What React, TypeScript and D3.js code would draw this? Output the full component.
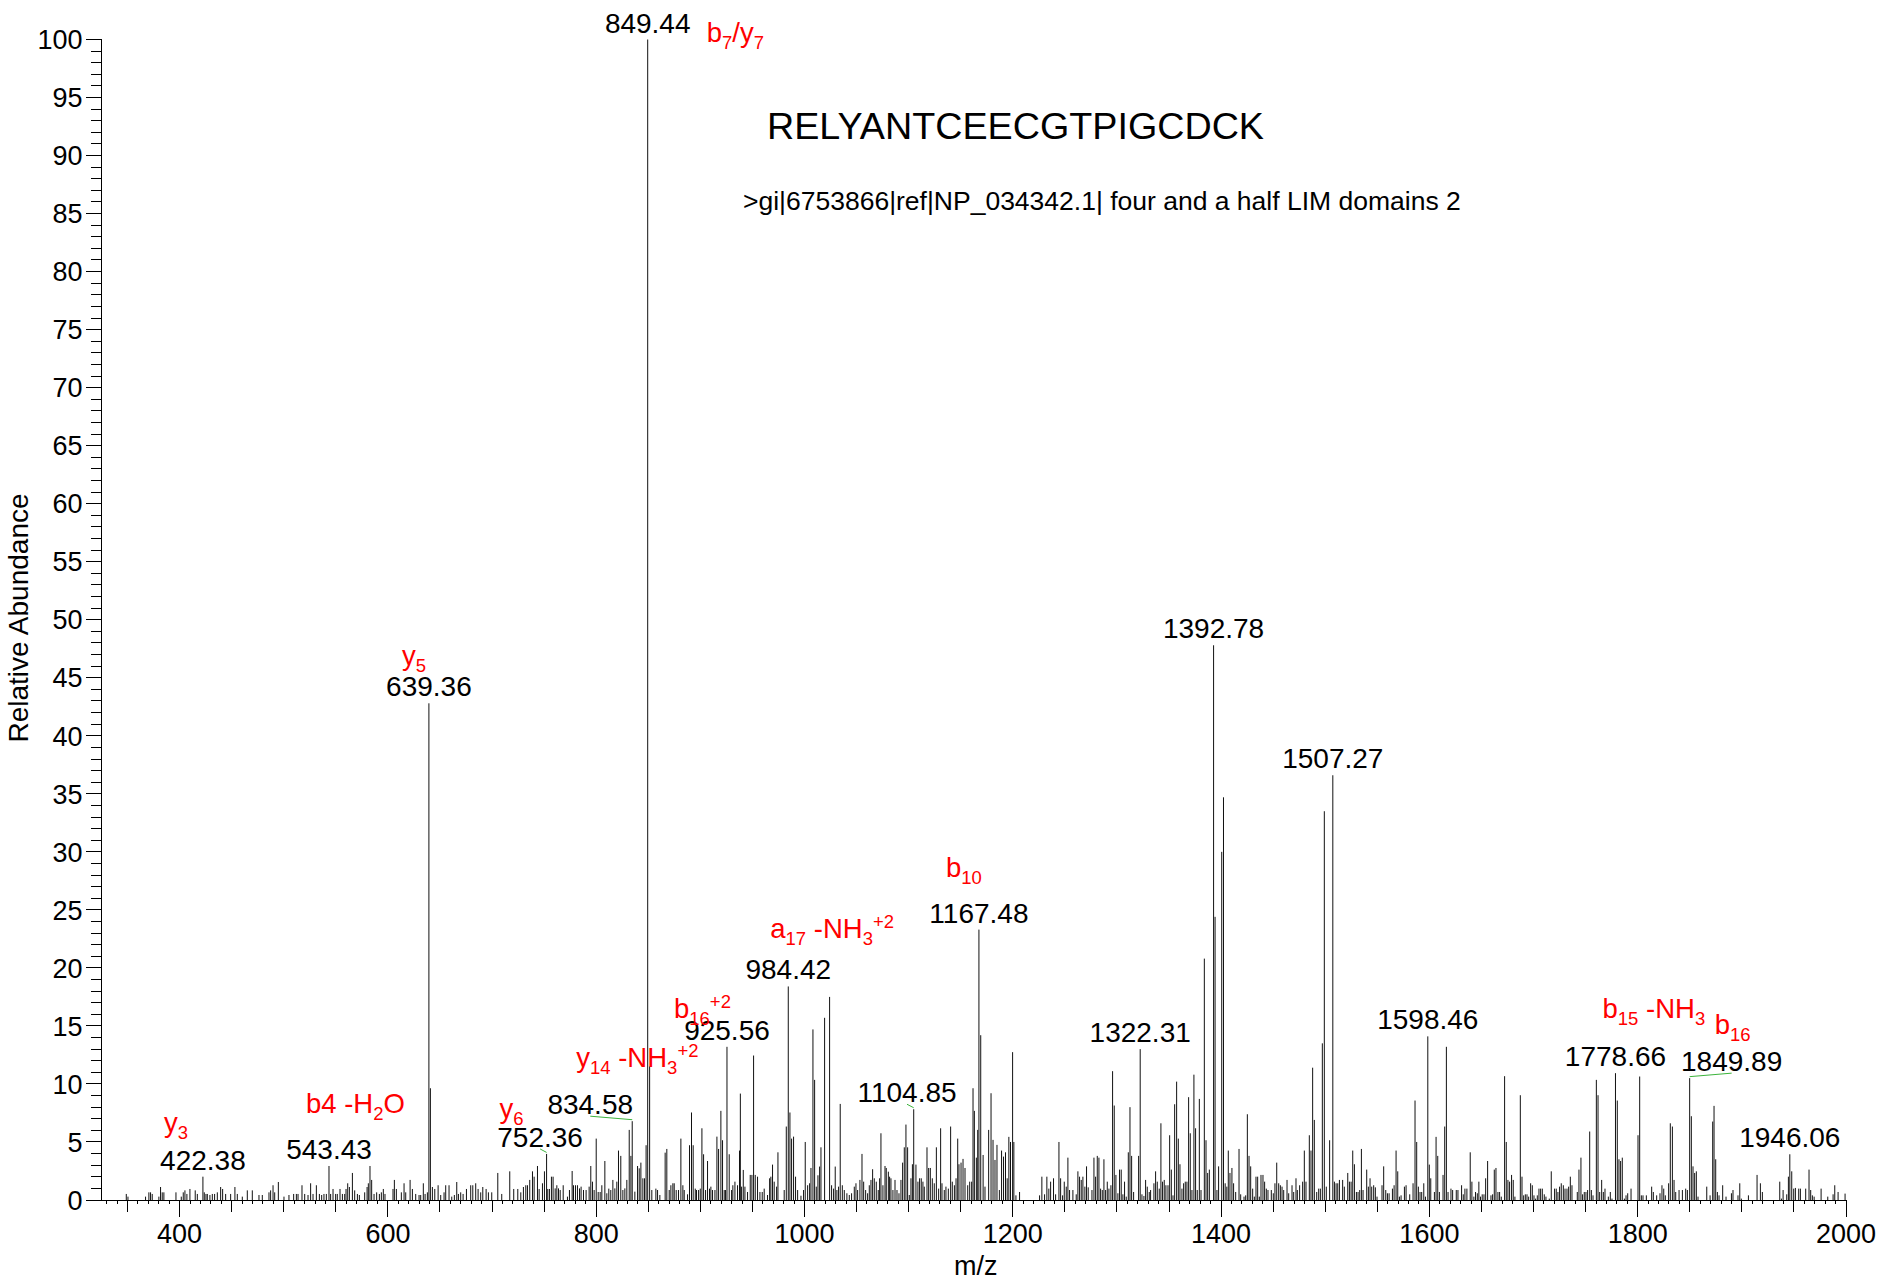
import React, { useEffect } from 'react';
import * as d3 from 'd3';

// ---- DATA (m/z, relative abundance) ----
const peaks325to560: [number, number][] = [
  [348.8,0.52],[350.4,0.29],[367.3,0.29],[370.5,0.66],[372.1,0.66],[373.7,0.52],[380.1,0.29],[381.7,1.12],[383.3,0.66],[384.9,0.66],[396.5,0.66],[401.6,0.29],[403.5,0.66],[405.1,0.83],[407.0,0.52],[409.9,0.95],[415.0,0.83],[417.0,0.52],[422.38,2.01],[423.7,0.66],[425.3,0.52],[426.6,0.52],[429.1,0.43],[431.4,0.52],[433.6,0.52],[436.2,0.66],[439.4,1.12],[441.3,0.95],[444.2,0.52],[449.0,0.52],[453.1,1.12],[455.4,0.52],[460.2,0.29],[465.0,0.83],[469.8,0.83],[476.2,0.43],[479.4,0.43],[485.8,0.66],[487.4,0.83],[489.7,1.27],[491.3,0.66],[494.8,1.55],[500.2,0.29],[505.0,0.43],[509.5,0.52],[512.1,0.52],[513.7,0.52],[517.5,1.27],[520.1,0.52],[523.3,0.43],[525.8,1.44],[528.1,0.52],[531.3,1.27],[534.2,0.52],[536.4,0.43],[538.6,0.52],[540.9,0.52],[543.43,2.93],[545.0,0.52],[547.3,0.95],[549.8,0.52],[551.4,0.52],[554.0,0.95],[556.3,0.52],[558.5,0.52],[559.8,0.95]
];
const peaks560to760: [number, number][] = [
  [561.4,1.44],[563.0,1.12],[565.9,2.33],[568.1,0.83],[570.7,0.52],[572.6,0.43],[577.7,0.66],[580.0,1.12],[581.2,1.44],[582.8,2.93],[584.4,1.73],[586.7,0.52],[589.2,0.66],[591.8,0.52],[593.7,0.66],[595.6,0.95],[597.2,0.52],[604.9,0.95],[606.2,1.73],[608.1,0.95],[612.9,0.66],[615.5,1.44],[617.1,0.66],[621.3,1.73],[623.5,0.95],[626.7,0.52],[629.9,0.43],[631.5,0.43],[634.0,1.44],[635.7,0.52],[637.9,0.66],[639.36,42.8],[640.8,9.63],[642.7,1.12],[645.0,0.95],[648.2,1.27],[650.7,0.43],[653.9,0.66],[655.5,1.27],[658.7,1.27],[661.3,0.29],[663.8,0.43],[666.1,1.55],[667.7,0.52],[669.9,0.66],[672.2,0.52],[675.4,0.95],[679.5,1.27],[681.5,1.27],[684.3,1.44],[686.6,0.95],[689.1,0.66],[691.1,1.12],[694.3,0.95],[696.5,0.66],[699.7,0.66],[705.5,2.33],[709.3,0.52],[717.0,2.47],[720.8,0.95],[724.7,0.95],[727.6,0.66],[730.1,1.12],[732.4,1.27],[734.0,1.27],[736.2,1.73],[738.8,2.47],[740.4,2.01],[743.6,2.93],[745.2,0.95],[748.4,1.44],[750.3,2.47],[752.36,3.97],[753.5,0.95],[755.1,0.95],[757.0,2.01],[758.6,2.01]
];
const peaks760to1000: [number, number][] = [
  [760.6,1.0],[762.2,1.27],[763.8,1.0],[765.4,0.86],[768.3,1.27],[772.4,0.29],[774.3,0.86],[776.9,2.5],[778.2,1.27],[780.1,1.27],[782.0,1.27],[784.0,1.0],[785.5,1.15],[787.8,0.86],[790.3,0.86],[793.2,1.15],[794.8,2.93],[796.4,1.58],[798.0,0.86],[800.0,5.29],[801.9,0.69],[803.8,0.69],[805.4,1.27],[808.3,3.36],[810.2,0.58],[812.1,0.98],[814.0,0.86],[816.0,1.73],[817.9,1.0],[819.8,1.58],[821.4,4.26],[823.6,3.8],[825.6,0.86],[827.5,1.0],[829.4,1.73],[831.7,6.04],[833.3,3.8],[834.58,6.79],[837.1,0.72],[839.7,2.93],[841.3,2.73],[842.9,3.22],[844.8,1.87],[846.4,1.87],[847.9,4.72],[849.44,100],[851.3,11.5],[853.4,0.86],[857.3,0.98],[858.9,0.86],[861.1,0.43],[866.2,4.08],[867.8,4.4],[870.1,0.86],[871.7,1.27],[873.6,1.44],[874.9,1.44],[876.8,0.86],[879.0,0.86],[881.3,5.29],[883.2,1.27],[884.5,0.86],[887.7,0.49],[889.6,4.72],[891.5,7.54],[893.1,4.72],[895.1,0.98],[896.3,0.86],[898.3,0.86],[899.9,0.98],[901.5,6.18],[903.1,3.94],[905.0,0.86],[906.9,3.36],[908.8,0.98],[910.1,1.15],[911.7,0.86],[914.0,0.86],[915.9,5.46],[917.5,4.4],[919.7,7.68],[921.3,5.15],[922.9,0.86],[924.2,0.86],[925.56,13.2],[927.7,3.94],[930.0,0.86],[931.2,1.27],[933.2,1.58],[935.7,1.27],[937.6,4.26],[938.4,9.17],[939.6,1.15],[941.2,2.59],[942.8,1.15],[945.3,0.69],[947.9,2.16],[949.5,2.16],[951.1,12.45],[952.7,2.16],[954.9,2.01],[957.2,0.69],[959.4,0.69],[961.3,0.98],[964.5,0.43],[966.5,1.87],[967.7,2.01],[969.3,3.05],[970.9,1.58],[973.2,1.15],[974.5,4.11],[980.5,0.86],[982.5,6.33],[984.42,18.4],[986.0,7.54],[987.6,5.29],[989.5,5.46],[991.4,2.01],[993.4,0.86],[996.6,0.37],[999.1,0.86]
];
const peaks1000to1210: [number, number][] = [
  [1000.7,5.0],[1003.0,1.27],[1004.9,1.44],[1006.2,2.76],[1008.1,14.7],[1009.7,10.35],[1011.3,1.15],[1012.9,2.13],[1014.5,2.88],[1015.8,4.54],[1019.3,15.7],[1024.1,17.5],[1026.0,1.27],[1027.9,0.98],[1029.5,2.88],[1031.1,0.86],[1032.7,1.15],[1034.3,8.28],[1036.3,1.27],[1038.2,0.86],[1040.7,0.58],[1043.0,0.43],[1045.2,0.58],[1047.8,1.15],[1049.4,1.44],[1051.0,0.86],[1053.2,1.73],[1055.2,3.97],[1056.8,1.58],[1058.7,0.86],[1060.6,0.58],[1062.2,1.27],[1063.8,1.73],[1065.4,2.65],[1067.0,1.87],[1068.9,1.58],[1070.8,0.86],[1072.1,1.87],[1073.4,5.75],[1075.3,1.27],[1077.3,2.93],[1078.5,2.76],[1080.5,2.44],[1081.7,2.01],[1083.0,1.87],[1084.9,0.86],[1086.9,1.73],[1088.8,0.86],[1090.7,0.58],[1092.6,1.73],[1094.2,3.22],[1095.8,4.54],[1097.4,6.5],[1099.0,4.54],[1100.6,0.43],[1102.2,1.87],[1103.6,3.08],[1104.85,7.82],[1107.0,3.05],[1108.9,1.58],[1110.5,1.87],[1112.1,1.87],[1113.7,1.58],[1115.0,1.15],[1117.6,4.54],[1119.2,2.76],[1120.8,2.76],[1122.7,1.87],[1124.6,1.44],[1126.6,4.54],[1128.8,0.98],[1130.7,6.18],[1132.0,1.44],[1134.2,0.86],[1135.8,1.15],[1138.1,0.98],[1140.3,6.33],[1141.9,1.58],[1143.9,1.27],[1145.5,1.87],[1147.1,5.29],[1148.3,3.08],[1150.3,3.22],[1152.2,3.54],[1154.1,2.76],[1156.7,1.27],[1158.6,1.58],[1160.5,1.58],[1161.8,9.63],[1163.1,7.68],[1165.0,3.65],[1166.3,6.04],[1167.48,23.3],[1169.2,14.2],[1171.5,3.88],[1173.3,1.15],[1176.8,6.04],[1179.1,9.2],[1181.0,5.18],[1182.9,3.45],[1184.8,4.75],[1187.1,0.86],[1189.2,4.26],[1191.1,3.74],[1193.0,4.11],[1194.6,1.87],[1196.2,5.44],[1197.8,5.0],[1199.8,12.74],[1201.0,5.0],[1203.0,0.4],[1206.5,0.69]
];
const peaks1210to1420: [number, number][] = [
  [1225.7,0.4],[1227.9,2.01],[1230.5,0.49],[1232.7,2.01],[1234.6,0.98],[1236.3,1.58],[1239.1,1.87],[1241.1,0.49],[1244.3,5.0],[1245.9,1.87],[1247.8,0.4],[1249.4,1.58],[1251.3,1.15],[1252.9,3.65],[1254.5,0.86],[1257.7,0.86],[1260.9,0.49],[1262.5,2.47],[1264.1,2.01],[1265.7,1.73],[1267.3,2.01],[1269.2,1.15],[1270.8,2.9],[1272.4,1.09],[1276.0,0.86],[1277.9,3.65],[1279.5,2.01],[1281.1,3.8],[1282.7,3.65],[1284.3,0.98],[1285.9,0.86],[1287.5,3.51],[1289.1,0.86],[1290.7,1.58],[1292.3,0.98],[1294.2,1.27],[1295.8,11.1],[1297.4,8.14],[1299.0,2.16],[1300.9,0.58],[1302.5,2.62],[1304.1,2.62],[1305.7,0.49],[1307.3,1.58],[1308.9,0.29],[1310.9,4.11],[1312.5,8.0],[1314.1,3.8],[1316.0,0.69],[1320.8,3.8],[1322.31,13.0],[1324.0,0.49],[1325.9,0.35],[1327.5,1.73],[1329.1,1.15],[1331.0,0.69],[1332.3,0.86],[1335.5,1.44],[1337.1,2.47],[1338.7,1.58],[1340.6,0.98],[1342.2,6.61],[1343.8,1.58],[1345.4,1.73],[1347.0,1.27],[1349.0,1.27],[1350.6,5.58],[1352.2,2.62],[1353.8,0.4],[1355.4,8.25],[1357.3,10.2],[1358.9,5.29],[1360.5,3.08],[1362.4,0.98],[1364.0,1.44],[1365.6,1.58],[1367.2,1.58],[1368.8,8.86],[1370.4,5.75],[1372.0,0.86],[1373.9,10.8],[1375.5,6.18],[1377.1,0.86],[1379.1,8.71],[1380.7,0.86],[1383.9,20.8],[1385.5,5.15],[1387.1,2.33],[1388.7,2.62],[1392.78,47.8],[1394.2,24.4],[1396.0,0.86],[1397.6,2.9],[1400.6,30.0],[1402.3,34.7],[1403.9,1.44],[1405.5,1.15],[1406.9,4.26],[1408.5,2.33],[1410.4,2.76],[1412.0,1.44],[1414.0,0.69],[1417.2,4.4],[1418.8,0.49]
];
const peaks1420to1620: [number, number][] = [
  [1422.0,0.29],[1423.6,0.4],[1425.2,7.39],[1426.8,3.8],[1428.4,2.9],[1430.3,0.98],[1431.9,0.29],[1433.5,2.01],[1435.1,2.01],[1436.7,0.29],[1438.3,2.16],[1440.2,2.16],[1441.8,1.58],[1443.4,0.98],[1445.0,0.86],[1448.2,0.86],[1450.1,0.58],[1451.7,1.44],[1453.4,3.22],[1455.3,1.44],[1456.9,1.27],[1458.5,1.15],[1460.1,0.86],[1463.3,1.73],[1464.9,0.58],[1468.1,1.27],[1469.7,0.69],[1471.9,1.87],[1473.2,0.86],[1475.4,1.27],[1478.3,1.58],[1479.9,4.26],[1481.5,1.58],[1484.7,5.58],[1486.3,4.26],[1487.9,11.4],[1489.5,6.9],[1491.8,0.69],[1493.7,0.98],[1495.3,0.98],[1497.2,13.5],[1499.1,33.5],[1501.0,1.15],[1504.2,5.15],[1507.27,36.6],[1508.8,1.58],[1510.4,1.44],[1512.0,1.44],[1513.6,1.73],[1516.7,1.73],[1518.3,1.15],[1521.6,2.33],[1523.2,1.58],[1524.8,1.58],[1526.4,4.26],[1528.0,3.08],[1529.9,0.69],[1531.5,0.69],[1533.1,0.86],[1534.7,4.4],[1536.3,0.86],[1539.8,2.62],[1541.4,1.15],[1543.0,1.87],[1544.6,1.15],[1546.5,1.27],[1548.1,1.09],[1549.7,0.29],[1554.5,1.27],[1556.1,2.9],[1558.1,0.86],[1559.7,0.58],[1561.3,0.58],[1564.5,0.98],[1566.1,1.27],[1568.0,4.26],[1569.6,2.47],[1571.2,0.29],[1572.8,0.4],[1576.0,1.15],[1577.6,1.27],[1581.1,0.49],[1584.3,1.44],[1586.2,8.57],[1587.8,5.0],[1589.4,1.15],[1591.0,0.69],[1592.6,0.69],[1594.6,1.44],[1596.2,0.29],[1598.46,14.1],[1599.9,3.05],[1601.3,1.87],[1604.8,0.69],[1606.4,5.44],[1608.0,3.8],[1609.6,0.69],[1613.1,2.16],[1614.7,6.33],[1616.3,13.2],[1617.9,0.69]
];
const peaks1620to1800: [number, number][] = [
  [1620.7,0.98],[1622.3,0.86],[1625.8,0.86],[1627.4,0.86],[1630.9,1.27],[1632.5,0.49],[1634.1,0.98],[1636.0,0.98],[1639.2,4.11],[1640.8,1.58],[1642.7,0.29],[1644.3,0.69],[1646.0,0.58],[1647.5,1.58],[1649.1,0.29],[1650.7,0.49],[1652.4,0.49],[1654.0,1.87],[1655.9,3.36],[1659.1,0.4],[1660.7,0.49],[1662.3,2.62],[1663.9,2.76],[1665.8,0.69],[1667.4,0.69],[1669.0,0.29],[1672.2,10.67],[1673.8,5.0],[1675.4,1.73],[1677.0,1.58],[1678.9,2.16],[1680.5,1.73],[1682.1,0.29],[1687.3,9.03],[1688.9,2.01],[1690.5,0.4],[1692.1,0.49],[1693.7,0.49],[1695.3,0.29],[1697.2,1.44],[1698.8,1.27],[1700.4,0.4],[1702.0,0.12],[1703.6,0.4],[1705.2,0.98],[1706.8,0.98],[1708.4,0.98],[1710.3,0.49],[1711.9,0.29],[1715.1,0.12],[1717.0,2.47],[1720.2,0.98],[1721.8,0.98],[1723.4,0.69],[1725.0,1.15],[1726.6,1.44],[1728.6,1.27],[1730.2,0.98],[1732.1,0.98],[1733.7,1.15],[1735.3,2.01],[1736.9,1.27],[1742.0,0.69],[1743.6,2.62],[1745.5,3.65],[1747.1,0.49],[1748.7,0.69],[1750.3,0.69],[1751.9,0.86],[1753.9,5.9],[1755.5,0.86],[1757.1,0.4],[1760.3,10.35],[1761.9,9.03],[1763.5,0.69],[1765.4,1.73],[1767.0,0.69],[1768.6,0.98],[1771.8,0.29],[1773.7,0.69],[1775.3,0.12],[1778.66,10.93],[1780.4,8.57],[1782.0,3.51],[1783.6,3.36],[1785.2,3.65],[1787.2,0.12],[1788.8,0.4],[1790.4,0.58],[1793.6,0.98]
];
const peaks1800to2000: [number, number][] = [
  [1800.3,5.58],[1801.9,10.64],[1803.5,0.4],[1805.1,0.4],[1808.3,0.4],[1813.4,1.15],[1815.0,0.69],[1818.2,0.4],[1821.4,0.58],[1823.3,1.27],[1825.0,0.98],[1826.5,0.4],[1829.7,1.44],[1831.3,6.61],[1833.3,6.33],[1834.9,1.73],[1836.5,0.69],[1839.7,0.86],[1842.9,0.86],[1846.1,0.98],[1847.7,0.86],[1849.89,10.5],[1851.5,7.22],[1853.1,2.9],[1854.7,2.33],[1856.3,2.47],[1857.9,0.29],[1866.3,1.15],[1869.5,0.4],[1872.0,6.76],[1873.3,8.11],[1874.9,3.51],[1876.5,0.69],[1878.1,0.4],[1881.6,1.27],[1884.8,0.29],[1890.0,0.58],[1891.5,0.86],[1896.3,0.4],[1898.0,1.44],[1899.5,0.12],[1906.3,0.4],[1914.6,2.16],[1917.8,1.44],[1919.7,0.69],[1936.4,1.58],[1938.0,0.12],[1939.6,0.86],[1943.1,0.49],[1944.7,2.01],[1946.06,3.94],[1947.9,2.47],[1949.8,0.98],[1951.4,1.04],[1954.6,0.98],[1956.2,0.98],[1961.3,0.98],[1964.5,2.62],[1966.1,0.86],[1967.7,0.4],[1969.4,0.29],[1976.1,0.98],[1982.5,0.29],[1987.6,0.49],[1989.2,1.27],[1992.4,0.69],[1999.1,0.55]
];

const labeledMz = [422.38, 543.43, 639.36, 752.36, 834.58, 849.44, 925.56, 984.42, 1104.85, 1167.48, 1322.31, 1392.78, 1507.27, 1598.46, 1778.66, 1849.89, 1946.06];
const xTickLabels = [400, 600, 800, 1000, 1200, 1400, 1600, 1800, 2000];
const yTickLabels = [0, 5, 10, 15, 20, 25, 30, 35, 40, 45, 50, 55, 60, 65, 70, 75, 80, 85, 90, 95, 100];
const titleText = 'RELYANTCEECGTPIGCDCK';
const subtitleText = '>gi|6753866|ref|NP_034342.1| four and a half LIM domains 2';

type Part = { t: string; k?: 'sub' | 'sup' };
const ionAnnotations: { mz: number; parts: Part[] }[] = [
  { mz: 422.38, parts: [{ t: 'y' }, { t: '3', k: 'sub' }] },
  { mz: 543.43, parts: [{ t: 'b4 -H' }, { t: '2', k: 'sub' }, { t: 'O' }] },
  { mz: 639.36, parts: [{ t: 'y' }, { t: '5', k: 'sub' }] },
  { mz: 752.36, parts: [{ t: 'y' }, { t: '6', k: 'sub' }] },
  { mz: 834.58, parts: [{ t: 'y' }, { t: '14', k: 'sub' }, { t: ' -NH' }, { t: '3', k: 'sub' }, { t: '+2', k: 'sup' }] },
  { mz: 849.44, parts: [{ t: 'b' }, { t: '7', k: 'sub' }, { t: '/y' }, { t: '7', k: 'sub' }] },
  { mz: 925.56, parts: [{ t: 'b' }, { t: '16', k: 'sub' }, { t: '+2', k: 'sup' }] },
  { mz: 984.42, parts: [{ t: 'a' }, { t: '17', k: 'sub' }, { t: ' -NH' }, { t: '3', k: 'sub' }, { t: '+2', k: 'sup' }] },
  { mz: 1167.48, parts: [{ t: 'b' }, { t: '10', k: 'sub' }] },
  { mz: 1778.66, parts: [{ t: 'b' }, { t: '15', k: 'sub' }, { t: ' -NH' }, { t: '3', k: 'sub' }] },
  { mz: 1849.89, parts: [{ t: 'b' }, { t: '16', k: 'sub' }] },
];

// ---- LAYOUT (pixel offsets of annotations relative to their peak tops) ----
const labelShift: Record<string, number> = { '752.36': -6.5, '834.58': -42, '1104.85': -6.7, '1849.89': 42 };
const ionOffset: Record<string, [number, number]> = {
  '422.38': [-39, -45], '543.43': [-23, -53], '639.36': [-27, -38], '752.36': [-47, -36],
  '834.58': [-56, -54], '849.44': [59, 2.5], '925.56': [-53, -29], '984.42': [-18, -48],
  '1167.48': [-33, -53], '1778.66': [-13, -55], '1849.89': [25, -44],
};

const FONT = '"Liberation Sans", Arial, Helvetica, sans-serif';

export default function App() {
  useEffect(() => {
    document.body.style.margin = '0';
  }, []);

  const W = 1882, H = 1284;
  const x = d3.scaleLinear().domain([325, 2000]).range([101.5, 1846]);
  const y = d3.scaleLinear().domain([0, 100]).range([1200, 39.5]);
  const allPeaks = [
    ...peaks325to560, ...peaks560to760, ...peaks760to1000, ...peaks1000to1210,
    ...peaks1210to1420, ...peaks1420to1620, ...peaks1620to1800, ...peaks1800to2000,
  ];
  const intensityOf = (mz: number) => {
    const p = allPeaks.find((d) => Math.abs(d[0] - mz) < 1e-6);
    return p ? p[1] : 0;
  };
  const x0 = x(325), x1 = x(2000), yb = y(0);
  const xTicks = d3.range(330, 2001, 10);
  const yTicks = d3.range(0, 101, 1);

  const renderParts = (parts: Part[]) => {
    let cur = 0;
    return parts.map((p, i) => {
      const target = p.k === 'sub' ? 7 : p.k === 'sup' ? -10 : 0;
      const dy = target - cur;
      cur = target;
      return (
        <tspan key={i} dy={dy} fontSize={p.k ? 18.5 : 27.5}>{p.t}</tspan>
      );
    });
  };

  return (
    <svg width={W} height={H} style={{ position: 'absolute', left: 0, top: 0, background: '#fff' }} fontFamily={FONT}>
      <rect x={0} y={0} width={W} height={H} fill="#fff" />
      {/* peaks */}
      <g stroke="#111" strokeWidth={1}>
        {allPeaks.map((d, i) => (
          <line key={i} x1={x(d[0])} x2={x(d[0])} y1={yb} y2={y(d[1])} />
        ))}
      </g>
      {/* axes */}
      <g stroke="#000" strokeWidth={1} shapeRendering="crispEdges">
        <line x1={x0} x2={x0} y1={y(100)} y2={yb} />
        <line x1={x0} x2={x1} y1={yb} y2={yb} />
        {yTicks.map((v) => (
          <line key={'yt' + v} x1={x0 - (v % 5 === 0 ? 16 : 11)} x2={x0} y1={y(v)} y2={y(v)} />
        ))}
        {xTicks.map((v) => {
          const len = v % 200 === 0 ? 17 : v % 50 === 0 ? 12 : 4;
          return <line key={'xt' + v} x1={x(v)} x2={x(v)} y1={yb} y2={yb + len} />;
        })}
      </g>
      <g fontSize={27} fill="#000">
        {yTickLabels.map((v) => (
          <text key={'yl' + v} x={x0 - 19} y={y(v)} dy="0.36em" textAnchor="end">{v}</text>
        ))}
        {xTickLabels.map((v) => (
          <text key={'xl' + v} x={x(v)} y={1243} textAnchor="middle">{v}</text>
        ))}
        <text x={x(d3.mean(x.domain()) as number) + 2} y={1275} textAnchor="middle">m/z</text>
        <text transform={`translate(28,618) rotate(-90)`} textAnchor="middle" fontSize={28}>Relative Abundance</text>
      </g>
      {/* title */}
      <text x={767} y={139} fontSize={37.7} fill="#000">{titleText}</text>
      <text x={743} y={210} fontSize={26.5} fill="#000">{subtitleText}</text>
      {/* peak labels */}
      <g fontSize={28} fill="#000">
        {labeledMz.map((mz) => {
          const px = x(mz);
          const top = y(intensityOf(mz));
          const shift = labelShift[mz.toFixed(2)] || 0;
          const base = top - 7;
          return (
            <g key={'pl' + mz}>
              <text x={px + shift} y={base} textAnchor="middle">{mz.toFixed(2)}</text>
              {shift !== 0 && (
                <line x1={px + shift} y1={base + 2} x2={px} y2={top - 1.5} stroke="#3cb43c" strokeWidth={1} />
              )}
            </g>
          );
        })}
      </g>
      {/* ion annotations */}
      <g fill="#ff0000">
        {ionAnnotations.map((a, i) => {
          const off = ionOffset[a.mz.toFixed(2)];
          const px = x(a.mz) + off[0];
          const py = y(intensityOf(a.mz)) + off[1];
          return (
            <text key={'ion' + i} x={px} y={py} fontSize={27.5}>{renderParts(a.parts)}</text>
          );
        })}
      </g>
    </svg>
  );
}
